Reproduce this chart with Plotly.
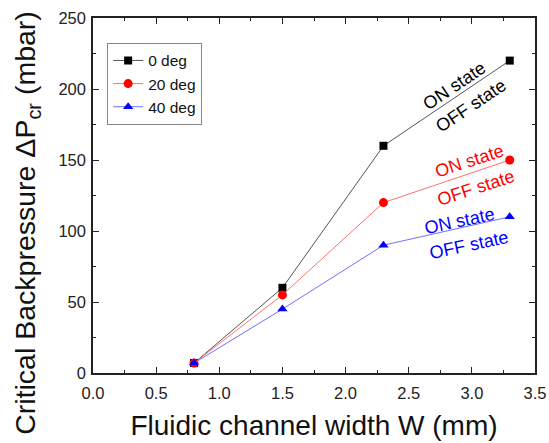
import plotly.graph_objects as go

widths = [0.8, 1.5, 2.3, 3.3]
p_0deg = [7, 60, 160, 220]
p_20deg = [7, 55, 120, 150]
p_40deg = [7, 45, 90, 110]
series_names = ["0 deg", "20 deg", "40 deg"]
x_ticks = [0.0, 0.5, 1.0, 1.5, 2.0, 2.5, 3.0, 3.5]
y_ticks = [0, 50, 100, 150, 200, 250]

FONT = "Liberation Sans, Arial, sans-serif"

fig = go.Figure()
styles = [
    dict(line_color="#555555", marker_color="black", symbol="square", size=8),
    dict(line_color="#ff7070", marker_color="red", symbol="circle", size=9),
    dict(line_color="#7070ff", marker_color="blue", symbol="triangle-up", size=9),
]
for name, vals, st in zip(series_names, [p_0deg, p_20deg, p_40deg], styles):
    fig.add_trace(go.Scatter(
        x=widths, y=vals, name=name, mode="lines+markers",
        line=dict(color=st["line_color"], width=1),
        marker=dict(color=st["marker_color"], symbol=st["symbol"], size=st["size"]),
    ))

annots = [
    (2.86, 202, "ON state", "black", -34),
    (2.99, 188, "OFF state", "black", -34),
    (2.98, 149, "ON state", "red", -18),
    (3.03, 130, "OFF state", "red", -18),
    (2.90, 107, "ON state", "blue", -12),
    (2.98, 90, "OFF state", "blue", -12),
]
for x, y, t, c, ang in annots:
    fig.add_annotation(x=x, y=y, text=t, showarrow=False, textangle=ang,
                       font=dict(family=FONT, size=18, color=c))

# y-axis title as a rotated annotation for precise placement
fig.add_annotation(x=-0.195, y=0.4225, xref="paper", yref="paper",
                   text="Critical Backpressure ΔP<sub>cr</sub> (mbar)",
                   showarrow=False, textangle=-90,
                   font=dict(family=FONT, size=28.5, color="#111"))

axis_common = dict(
    showline=True, linecolor="#222", linewidth=1.5, mirror="allticks",
    ticks="inside", ticklen=6, tickwidth=1.2, tickcolor="#222",
    showgrid=False, zeroline=False, automargin=False,
    tickfont=dict(family=FONT, size=16.5, color="#222"),
)
fig.update_xaxes(
    range=[0, 3.5], tickvals=x_ticks, ticktext=[f"{v:.1f}" for v in x_ticks],
    title=dict(text="Fluidic channel width W (mm)", font=dict(family=FONT, size=28, color="#111")),
    minor=dict(dtick=0.25, ticks="inside", ticklen=3, tickcolor="#222", tick0=0),
    ticklabelstandoff=4,
    **axis_common,
)
fig.update_yaxes(
    range=[0, 250], tickvals=y_ticks,
    minor=dict(dtick=25, ticks="inside", ticklen=3, tickcolor="#222", tick0=0),
    ticklabelstandoff=2,
    **axis_common,
)
fig.update_layout(
    width=549, height=443,
    margin=dict(l=93, r=14, t=18, b=70),
    plot_bgcolor="white", paper_bgcolor="white",
    showlegend=True,
    legend=dict(x=0.032, y=0.93, xanchor="left", yanchor="top",
                bordercolor="#888", borderwidth=1,
                font=dict(family=FONT, size=15.5, color="#111"),
                tracegroupgap=0, itemwidth=30),
)
fig.write_html("out.html", config={"displayModeBar": False},
               post_script="document.body.style.margin='0';")
